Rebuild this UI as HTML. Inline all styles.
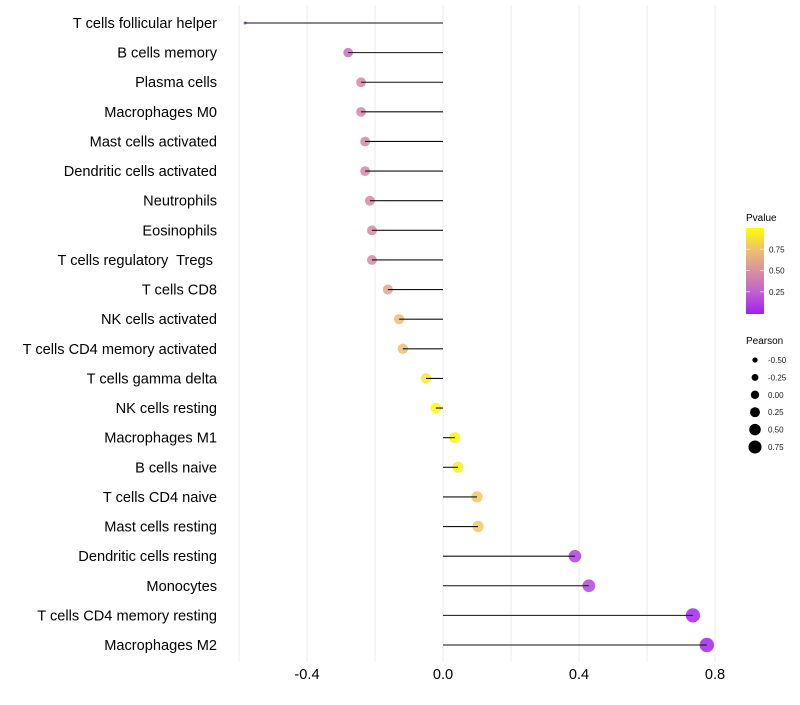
<!DOCTYPE html>
<html><head><meta charset="utf-8"><style>
body{margin:0;background:#fff;font-family:"Liberation Sans",sans-serif;}
svg text{font-family:"Liberation Sans",sans-serif;white-space:pre;}
</style></head><body>
<svg id="chart" width="800" height="700" xmlns="http://www.w3.org/2000/svg">
<g id="grid"></g>
<g id="points"></g>
<g id="stems"></g>
<g id="ylabels"></g>
<g id="xlabels"></g>
<g id="legend">
<defs><linearGradient id="pg" x1="0" y1="1" x2="0" y2="0">
<stop offset="0" stop-color="#A020F0"/><stop offset="0.25" stop-color="#C060D0"/><stop offset="0.5" stop-color="#D890A0"/><stop offset="0.75" stop-color="#F0C070"/><stop offset="1" stop-color="#FFFF00"/></linearGradient></defs>
<text x="746" y="221" font-size="10" fill="#000">Pvalue</text>
<rect x="746" y="228" width="18" height="86" fill="url(#pg)"/>
<g id="cbticks"></g>
<text x="746" y="344" font-size="10" fill="#000">Pearson</text>
<g id="sizeleg"></g>
</g>
</svg>
<script>
const categories=["T cells follicular helper","B cells memory","Plasma cells","Macrophages M0","Mast cells activated","Dendritic cells activated","Neutrophils","Eosinophils","T cells regulatory  Tregs ","T cells CD8","NK cells activated","T cells CD4 memory activated","T cells gamma delta","NK cells resting","Macrophages M1","B cells naive","T cells CD4 naive","Mast cells resting","Dendritic cells resting","Monocytes","T cells CD4 memory resting","Macrophages M2"];
const pearson=[-0.582,-0.279,-0.241,-0.241,-0.229,-0.229,-0.215,-0.209,-0.209,-0.162,-0.129,-0.118,-0.05,-0.021,0.035,0.044,0.1,0.103,0.388,0.429,0.735,0.776];
const pvalue=[0.0,0.32,0.45,0.45,0.46,0.46,0.47,0.47,0.47,0.6,0.72,0.74,0.92,0.98,0.95,0.93,0.78,0.78,0.12,0.16,0.02,0.02];
const xTicks=[-0.4,0.0,0.4,0.8];
const xTickLabels=["-0.4","0.0","0.4","0.8"];
const xGrid=[-0.6,-0.4,-0.2,0,0.2,0.4,0.6,0.8];
const legendSizes=[-0.5,-0.25,0,0.25,0.5,0.75];
const legendSizeLabels=["-0.50","-0.25","0.00","0.25","0.50","0.75"];
const cbTicks=[0.25,0.5,0.75];
const cbLabels=["0.25","0.50","0.75"];
const NS="http://www.w3.org/2000/svg";
const xs=v=>443+v*340;
const ys=i=>23+i*(645-23)/(categories.length-1);
const rKnots=[[-0.6,1.3],[-0.28,4.8],[0.1,5.6],[0.8,7.3]];
function rs(v){for(let k=1;k<rKnots.length;k++){const a=rKnots[k-1],b=rKnots[k];if(v<=b[0]||k==rKnots.length-1){const t=(v-a[0])/(b[0]-a[0]);return Math.max(1,a[1]+(b[1]-a[1])*t);}}}
const rl=v=>4.2+v*3.1;
const cbY=p=>313-p*85;
const cStops=[[160,32,240],[192,96,208],[216,144,160],[240,192,112],[255,255,0]];
function col(p){const s=Math.min(3.999,Math.max(0,p*4));const k=Math.floor(s),t=s-k;const a=cStops[k],b=cStops[k+1];return `rgb(${a.map((x,i)=>Math.round(x+(b[i]-x)*t)).join(',')})`;}
function mk(tag,attrs,parent,text){const e=document.createElementNS(NS,tag);for(const k in attrs)e.setAttribute(k,attrs[k]);if(text!=null)e.textContent=text;parent.appendChild(e);return e;}
const grid=document.getElementById('grid'),pts=document.getElementById('points'),stems=document.getElementById('stems'),yl=document.getElementById('ylabels'),xl=document.getElementById('xlabels');
xGrid.forEach(v=>{const l=mk('line',{x1:xs(v),x2:xs(v),y1:5,y2:662,stroke:'#ebebeb','stroke-width':1},grid);

});
categories.forEach((c,i)=>{
 const y=ys(i);
 const t=mk('text',{x:217,y:y+5,'font-size':14.6,'text-anchor':'end',fill:'#000'},yl,c);
 
 
 const p=mk('circle',{cx:xs(pearson[i]),cy:y,r:rs(pearson[i]),fill:col(pvalue[i]),'fill-opacity':0.85},pts);
 
 
 const ln=mk('line',{x1:xs(0),x2:xs(pearson[i]),y1:y,y2:y,stroke:'#111','stroke-width':1.1},stems);
 
 
});
xTicks.forEach((v,i)=>{const t=mk('text',{x:xs(v),y:679,'font-size':14.6,'text-anchor':'middle',fill:'#000'},xl,xTickLabels[i]);

});
const cbt=document.getElementById('cbticks');
cbTicks.forEach((v,i)=>{
 mk('line',{x1:746,x2:750,y1:cbY(v),y2:cbY(v),stroke:'#fff','stroke-opacity':0.6},cbt);
 mk('line',{x1:760,x2:764,y1:cbY(v),y2:cbY(v),stroke:'#fff','stroke-opacity':0.6},cbt);
 const t=mk('text',{x:769,y:cbY(v)+3,'font-size':8,fill:'#1a1a1a'},cbt,cbLabels[i]);
 
 
});
const sl=document.getElementById('sizeleg');
legendSizes.forEach((v,i)=>{const y=360+i*17.4;
 const c=mk('circle',{cx:755,cy:y,r:rl(v),fill:'#000'},sl);
 
 
 const t=mk('text',{x:768,y:y+3,'font-size':8,fill:'#1a1a1a'},sl,legendSizeLabels[i]);
 
 
});
</script>
</body></html>
